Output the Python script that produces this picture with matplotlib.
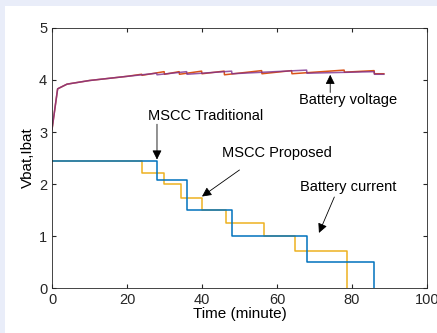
import matplotlib
matplotlib.use("Agg")
import matplotlib.pyplot as plt
from matplotlib.patches import Rectangle

plt.rcParams['font.family'] = ['Liberation Sans', 'DejaVu Sans']

# Battery current (step changes), minutes / A
trad_t = [0, 28, 36, 48, 68, 86]
trad_i = [2.45, 2.08, 1.5, 1.0, 0.5, 0]
prop_t = [0, 24, 30, 34.4, 40, 46.5, 56.5, 64.8, 78.8]
prop_i = [2.45, 2.22, 2.0, 1.74, 1.5, 1.25, 1.0, 0.72, 0]

# Battery voltage
vtrad_t = [0, 1.5, 4, 10, 20, 27.9, 28, 35.9, 36, 47.9, 48, 67.9, 68, 85.9, 86, 88.5]
vtrad_v = [3.05, 3.83, 3.92, 3.99, 4.07, 4.13, 4.10, 4.16, 4.11, 4.17, 4.12, 4.19, 4.13, 4.16, 4.11, 4.11]
vprop_t = [0, 1.5, 4, 10, 20, 23.9, 24, 29.9, 30, 33.9, 34, 39.9, 40, 45.9, 46,
           55.9, 56, 63.9, 64, 77.9, 78, 85.9, 86, 88.5]
vprop_v = [3.05, 3.83, 3.92, 3.99, 4.07, 4.11, 4.09, 4.16, 4.11, 4.16, 4.11, 4.17, 4.12, 4.17, 4.10,
           4.18, 4.12, 4.18, 4.12, 4.19, 4.15, 4.18, 4.12, 4.12]

# annotations: text, text position (left, middle), arrow tail, arrow head
notes = ['MSCC Traditional', 'MSCC Proposed', 'Battery current', 'Battery voltage']
note_xy = [(25.6, 3.3), (45.3, 2.6), (66.1, 1.94), (65.9, 3.62)]
tail_xy = [(28, 3.15), (50, 2.27), (75.3, 1.75), (74.2, 3.76)]
head_xy = [(28, 2.47), (40, 1.76), (71.2, 1.06), (74.2, 4.1)]

blue = (0, 0.447, 0.741)
orange = (0.85, 0.325, 0.098)
yellow = (0.929, 0.694, 0.125)
purple = (0.494, 0.184, 0.556)

fig = plt.figure(figsize=(4.37, 3.33), dpi=100)
fig.patch.set_facecolor('#e9edf9')
fig.patches.append(Rectangle((5 / 437, 0), 1, (333 - 6) / 333, transform=fig.transFigure,
                             facecolor='white', edgecolor='none', zorder=-1))
ax = fig.add_axes([0.119, 0.135, 0.858, 0.781])

ax.plot(vprop_t, vprop_v, color=orange, lw=1.1)
ax.plot(vtrad_t, vtrad_v, color=purple, lw=1.1, alpha=0.8)
ax.step(prop_t, prop_i, where='post', color=yellow, lw=1.1)
ax.step(trad_t, trad_i, where='post', color=blue, lw=1.1)

ax.set_xlim(0, 100)
ax.set_ylim(0, 5)
ax.set_xticks([0, 20, 40, 60, 80, 100])
ax.set_yticks([0, 1, 2, 3, 4, 5])
ax.tick_params(direction='in', top=True, right=True, labelsize=10.5, colors='#262626', length=3)
for s in ax.spines.values():
    s.set_color('#262626')
    s.set_linewidth(0.6)
ax.set_xlabel('Time (minute)', fontsize=11, labelpad=0)
ax.set_ylabel('Vbat,Ibat', fontsize=11, labelpad=3)

for txt, pos, tail, head in zip(notes, note_xy, tail_xy, head_xy):
    ax.text(pos[0], pos[1], txt, fontsize=10.5, ha='left', va='center')
    ax.annotate('', xy=head, xytext=tail,
                arrowprops=dict(arrowstyle='-|>', color='black', lw=0.6,
                                mutation_scale=14, shrinkA=0, shrinkB=0))

fig.savefig('out.png', dpi=100, facecolor=fig.get_facecolor())
